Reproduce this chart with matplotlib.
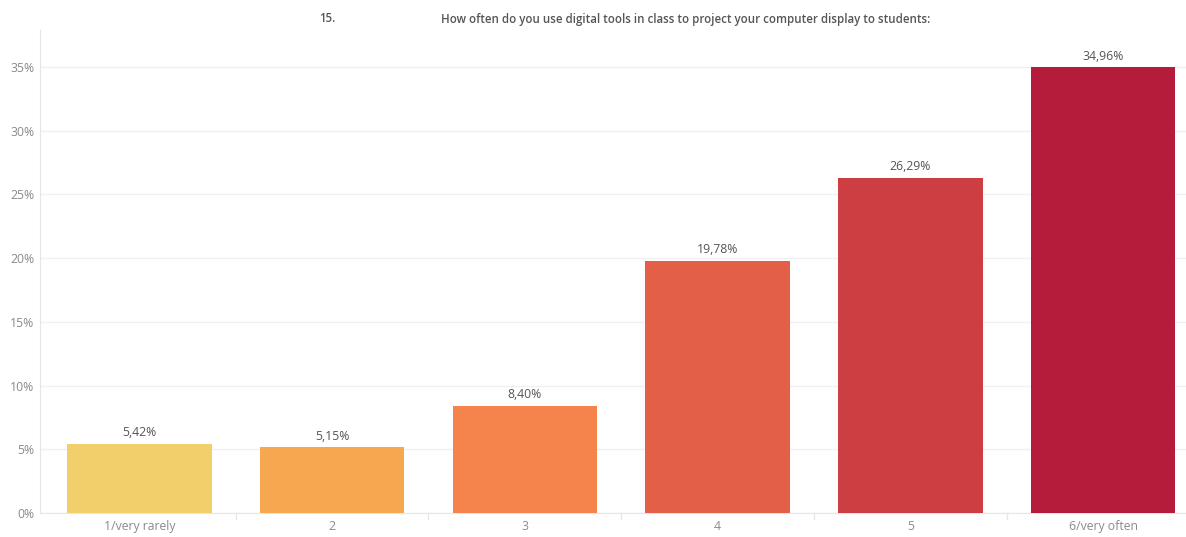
import matplotlib
matplotlib.use("Agg")
import matplotlib.pyplot as plt
from matplotlib.ticker import FuncFormatter

categories = ["1/very rarely", "2", "3", "4", "5", "6/very often"]
values = [5.42, 5.15, 8.40, 19.78, 26.29, 34.96]
colors = ["#F2CF6A", "#F6A750", "#F4844B", "#E35F47", "#CC3E42", "#B51C3C"]
y_ticks = [0, 5, 10, 15, 20, 25, 30, 35]
title_num = "15."
title_text = "How often do you use digital tools in class to project your computer display to students:"

plt.rcParams["font.family"] = ["Open Sans", "DejaVu Sans"]

W, H = 1186, 537
fig = plt.figure(figsize=(W / 100, H / 100), dpi=100)
ax = fig.add_axes([40 / W, (H - 513) / H, (W - 40) / W, (513 - 30) / H])

x = list(range(len(categories)))
ax.bar(x, values, width=0.75, color=colors, zorder=3)

for xi, v in zip(x, values):
    ax.text(xi, v + 0.35, f"{v:.2f}%".replace(".", ","), ha="center", va="bottom",
            fontsize=8.8, color="#555555", zorder=4)

ax.set_xlim(-0.515, 5.43)
ax.set_ylim(0, 37.9)
ax.set_yticks(y_ticks)
ax.yaxis.set_major_formatter(FuncFormatter(lambda v, p: f"{v:.0f}%"))
ax.set_xticks(x)
ax.set_xticklabels(categories)
ax.tick_params(axis="both", length=0, labelsize=8.8, labelcolor="#8a8a8a")
ax.tick_params(axis="y", pad=4)
ax.tick_params(axis="x", pad=5)

ax.grid(axis="y", color="#f0f0f0", linewidth=1, zorder=0)
for s in ["top", "right"]:
    ax.spines[s].set_visible(False)
ax.spines["left"].set_color("#e6e6e6")
ax.spines["bottom"].set_color("#e6e6e6")

# small separators between categories on the baseline
for b in [0.5, 1.5, 2.5, 3.5, 4.5]:
    ax.plot([b, b], [0, -0.5], color="#e6e6e6", lw=1, clip_on=False)

fig.text(327 / W, 1 - 19 / H, title_num, ha="center", va="center", fontsize=8.3,
         color="#555555", fontweight="semibold")
fig.text(441 / W, 1 - 19 / H, title_text, ha="left", va="center", fontsize=8.3,
         color="#555555", fontweight="semibold")

fig.savefig("out.png", dpi=100, facecolor="white")
